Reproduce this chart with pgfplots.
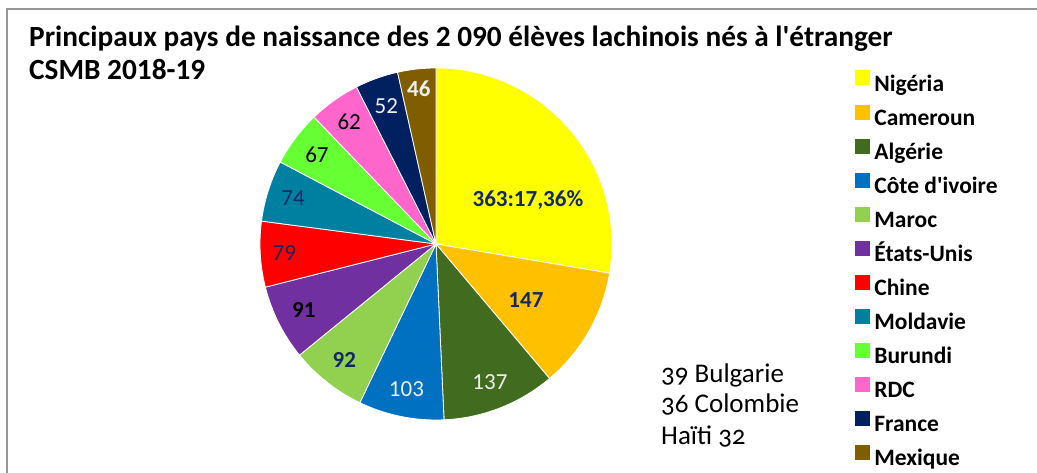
\documentclass[border=0pt]{standalone}
\usepackage{pgfplots}
\usepackage{pgfplotstable}
\pgfplotsset{compat=1.18}
\usepackage{fontspec}
\setmainfont{Carlito}
\usetikzlibrary{calc}
\definecolor{cNig}{RGB}{255,255,0}
\definecolor{cCam}{RGB}{255,192,0}
\definecolor{cAlg}{RGB}{65,107,30}
\definecolor{cCiv}{RGB}{0,112,192}
\definecolor{cMar}{RGB}{146,208,80}
\definecolor{cEtu}{RGB}{112,48,160}
\definecolor{cChi}{RGB}{255,0,0}
\definecolor{cMol}{RGB}{0,128,160}
\definecolor{cBur}{RGB}{102,255,51}
\definecolor{cRdc}{RGB}{255,102,204}
\definecolor{cFra}{RGB}{0,32,96}
\definecolor{cMex}{RGB}{128,94,0}
\definecolor{lNavy}{RGB}{20,40,100}
\definecolor{lWhite}{RGB}{238,238,238}
\definecolor{frameGray}{RGB}{150,150,150}

% value, slice colour, label radius (px), label angle shift, label colour, bold
\pgfplotstableread{
val col lr dang lc bf
363 cNig 102 -14.6 lNavy 1
147 cCam 106 -2.3 lNavy 1
137 cAlg 148 0 lWhite 0
103 cCiv 148 0 lWhite 0
92 cMar 148 0 lNavy 1
91 cEtu 148 0 black 1
79 cChi 152 0 lNavy 0
74 cMol 150 0 lNavy 0
67 cBur 149 0 black 0
62 cRdc 150 0 black 0
52 cFra 147 0 lWhite 0
46 cMex 156 0 lWhite 1
}\pietable

\newcommand\drawpie{%
  \pgfplotstablegetrowsof{\pietable}%
  \pgfmathtruncatemacro\nrows{\pgfplotsretval-1}%
  \gdef\total{0}%
  \foreach \i in {0,...,\nrows}{%
    \pgfplotstablegetelem{\i}{val}\of{\pietable}%
    \pgfmathsetmacro\t{\total+\pgfplotsretval}\xdef\total{\t}}%
  \gdef\cum{0}%
  \foreach \i in {0,...,\nrows}{%
    \pgfplotstablegetelem{\i}{val}\of{\pietable}\let\v\pgfplotsretval
    \pgfplotstablegetelem{\i}{col}\of{\pietable}\let\c\pgfplotsretval
    \pgfmathsetmacro\a{90-\cum/\total*360}%
    \pgfmathsetmacro\b{90-(\cum+\v)/\total*360}%
    \fill[\c, draw=white, line width=0.8pt] (axis cs:436,229) -- ++(\a:176pt)
       arc[start angle=\a, end angle=\b, radius=176pt] -- cycle;
    \pgfmathsetmacro\t{\cum+\v}\xdef\cum{\t}%
  }%
  \gdef\cum{0}%
  \foreach \i in {0,...,\nrows}{%
    \pgfplotstablegetelem{\i}{val}\of{\pietable}\let\v\pgfplotsretval
    \pgfplotstablegetelem{\i}{lr}\of{\pietable}\let\r\pgfplotsretval
    \pgfplotstablegetelem{\i}{dang}\of{\pietable}\let\d\pgfplotsretval
    \pgfplotstablegetelem{\i}{lc}\of{\pietable}\let\lcol\pgfplotsretval
    \pgfplotstablegetelem{\i}{bf}\of{\pietable}\let\isbf\pgfplotsretval
    \pgfmathsetmacro\m{90-(\cum+\v/2)/\total*360+\d}%
    \node[text=\lcol, font={\fontsize{23}{27}\selectfont\ifnum\isbf=1 \bfseries\fi}, inner sep=0pt]
      at ($(axis cs:436,229)+(\m:\r pt)$) {\ifnum\i=0 \v:17,36\%\else\v\fi};
    \pgfmathsetmacro\t{\cum+\v}\xdef\cum{\t}%
  }%
}

\pgfplotsset{
  /pgfplots/sq legend/.style={legend image code/.code={%
     \fill[##1] (0pt,0.5pt) rectangle (14pt,14.5pt);
     \path (19pt,0pt);}},
}
\newcommand\legtxt[1]{\raisebox{0pt}[14pt][6pt]{#1}}

\begin{document}
\begin{tikzpicture}
\begin{axis}[
  at={(0,0)}, anchor=south west,
  width=1037pt, height=473pt, scale only axis,
  xmin=0, xmax=1037, ymin=0, ymax=473,
  hide axis, clip=false,
  legend cell align=left,
  legend style={draw=none, fill=none, at={(axis cs:855,402.5)}, anchor=north west,
    inner sep=0pt, outer sep=0pt,
    font={\fontsize{23.5}{27}\selectfont\bfseries},
    row sep=11.6pt,
    nodes={inner sep=0pt, outer sep=0pt},
  },
]
\addlegendimage{sq legend, cNig}\addlegendentry{\legtxt{Nigéria}}
\addlegendimage{sq legend, cCam}\addlegendentry{\legtxt{Cameroun}}
\addlegendimage{sq legend, cAlg}\addlegendentry{\legtxt{Algérie}}
\addlegendimage{sq legend, cCiv}\addlegendentry{\legtxt{Côte d\textquotesingle ivoire}}
\addlegendimage{sq legend, cMar}\addlegendentry{\legtxt{Maroc}}
\addlegendimage{sq legend, cEtu}\addlegendentry{\legtxt{États-Unis}}
\addlegendimage{sq legend, cChi}\addlegendentry{\legtxt{Chine}}
\addlegendimage{sq legend, cMol}\addlegendentry{\legtxt{Moldavie}}
\addlegendimage{sq legend, cBur}\addlegendentry{\legtxt{Burundi}}
\addlegendimage{sq legend, cRdc}\addlegendentry{\legtxt{RDC}}
\addlegendimage{sq legend, cFra}\addlegendentry{\legtxt{France}}
\addlegendimage{sq legend, cMex}\addlegendentry{\legtxt{Mexique}}
\pgfplotsextra{\drawpie}
\draw[frameGray, line width=2pt] (axis cs:7,0) -- (axis cs:7,464) -- (axis cs:1037,464);
\node[anchor=base west, inner sep=0pt, font={\fontsize{29.3}{32}\selectfont\bfseries}]
  at (axis cs:29,426.3) {Principaux pays de naissance des 2 090 élèves lachinois nés à l\textquotesingle étranger};
\node[anchor=base west, inner sep=0pt, font={\fontsize{29.3}{32}\selectfont\bfseries}]
  at (axis cs:29,393) {CSMB 2018-19};
\node[anchor=base west, inner sep=0pt, font={\fontsize{27}{30}\selectfont\addfontfeatures{Numbers=OldStyle}}]
  at (axis cs:661,90) {39 Bulgarie};
\node[anchor=base west, inner sep=0pt, font={\fontsize{27}{30}\selectfont\addfontfeatures{Numbers=OldStyle}}]
  at (axis cs:661,60) {36 Colombie};
\node[anchor=base west, inner sep=0pt, font={\fontsize{27}{30}\selectfont\addfontfeatures{Numbers=OldStyle}}]
  at (axis cs:661,28) {Haïti 32};
\end{axis}
\pgfresetboundingbox
\path[use as bounding box] (0,0) rectangle (1037pt,473pt);
\end{tikzpicture}
\end{document}
